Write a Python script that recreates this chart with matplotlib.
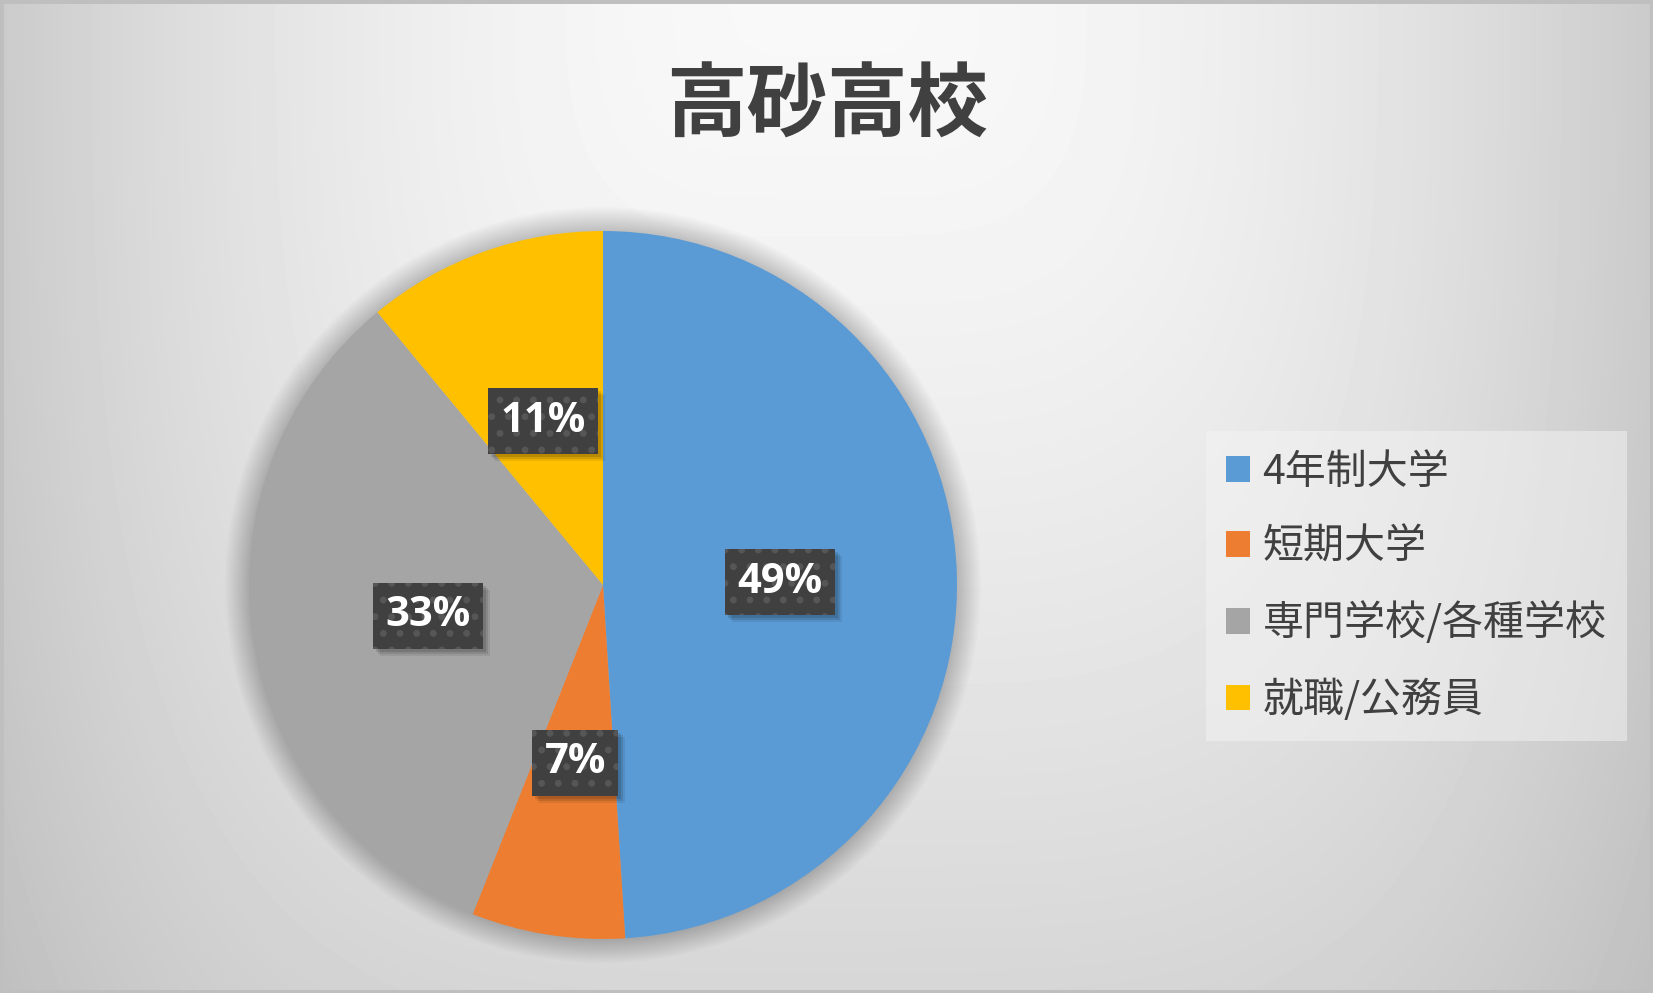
import numpy as np
import matplotlib
matplotlib.use('Agg')
import matplotlib.pyplot as plt
from matplotlib.patches import Circle, Rectangle
from matplotlib.transforms import offset_copy

plt.rcParams['font.family'] = ['Noto Sans CJK JP', 'DejaVu Sans']
plt.rcParams['hatch.linewidth'] = 2.5

# data
title = '高砂高校'
labels = ['4年制大学', '短期大学', '専門学校/各種学校', '就職/公務員']
shares = [49, 7, 33, 11]
colors = ['#5B9BD5', '#ED7D31', '#A5A5A5', '#FFC000']

W, H = 1653, 993
fig = plt.figure(figsize=(W / 100, H / 100), dpi=100)

# background gradient (light at top centre, grey towards the edges)
bg = fig.add_axes([0, 0, 1, 1], zorder=-10)
xx, yy = np.meshgrid(np.linspace(0, 1, 400), np.linspace(0, 1, 240))
dh = 0.18 * (np.abs(xx - 0.5) / 0.5) ** 2.0
dv = 0.135 * yy ** 1.4
drop = np.sqrt(dh ** 2 + dv ** 2)
shade = np.clip(0.975 - drop, 0, 1)
bg.imshow(shade, cmap='gray', vmin=0, vmax=1, extent=[0, 1, 1, 0],
          aspect='auto', interpolation='bilinear')
bg.set_xlim(0, 1)
bg.set_ylim(1, 0)
bg.axis('off')
bg.add_patch(Rectangle((0, 0), 1, 1, transform=fig.transFigure, fill=False,
                       edgecolor='#bfbfbf', linewidth=5, clip_on=False))

# pie
cx, cy, r = 603, 585, 354
ax = fig.add_axes([(cx - r) / W, (H - cy - r) / H, 2 * r / W, 2 * r / H])
for k in range(18):
    ax.add_patch(Circle((0, 0), 1 + 0.004 * k, facecolor='black',
                        alpha=0.011, linewidth=0, zorder=0, clip_on=False))
wedges, texts, autotexts = ax.pie(
    shares, colors=colors, startangle=90, counterclock=False,
    autopct='%.0f%%', pctdistance=0.5, radius=1,
    wedgeprops=dict(linewidth=0, zorder=2),
    textprops=dict(color='white', fontsize=30, fontweight='bold',
                   family=['Open Sans', 'DejaVu Sans']))
ax.set_xlim(-1, 1)
ax.set_ylim(-1, 1)
ax.set_aspect('equal')
ax.axis('off')

for k, a in [(3, 0.12), (5, 0.1), (7, 0.08)]:
    shadow_tr = offset_copy(ax.transData, fig=fig, x=k, y=-k - 3, units='dots')
    for t in autotexts:
        x, y = t.get_position()
        ax.text(x, y, t.get_text(), transform=shadow_tr, ha='center',
                va='center', color=(0, 0, 0, 0), fontsize=30,
                fontweight='bold', family=['Open Sans', 'DejaVu Sans'],
                zorder=3,
                bbox=dict(boxstyle='square,pad=0.3', facecolor='black',
                          alpha=a, linewidth=0))
label_tr = offset_copy(ax.transData, fig=fig, x=0, y=-3, units='dots')
for t in autotexts:
    t.set_transform(label_tr)
    t.set_zorder(4)
    t.set_bbox(dict(boxstyle='square,pad=0.3', facecolor='#404040',
                    edgecolor='#565656', hatch='.', linewidth=0))

# title
fig.text(827 / W, 1 - 107 / H, title, ha='center', va='center',
         fontsize=58, fontweight='bold', color='#404040')

# legend
leg = fig.legend(wedges, labels, loc='upper left',
                 bbox_to_anchor=(1206 / W, 1 - 431 / H),
                 fontsize=29.5, frameon=True, fancybox=False,
                 handlelength=0.58, handleheight=0.58, handletextpad=0.3,
                 labelspacing=0.83, borderpad=0.5, borderaxespad=0,
                 labelcolor='#404040')
frame = leg.get_frame()
frame.set_facecolor('#f4f4f4')
frame.set_alpha(0.5)
frame.set_linewidth(0)

fig.savefig('out.png', dpi=100)
